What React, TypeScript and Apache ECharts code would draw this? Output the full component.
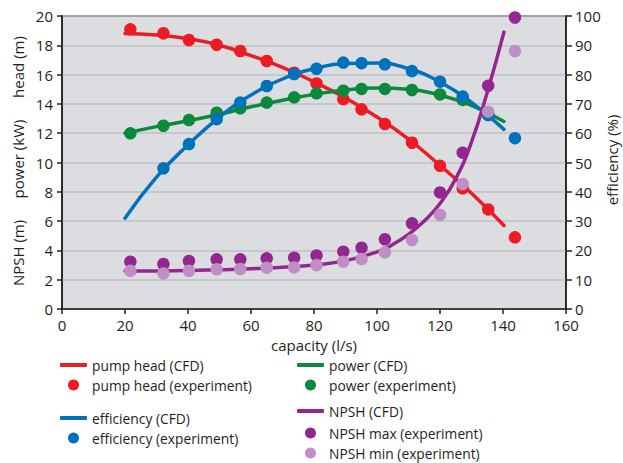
import React, { useEffect, useRef } from "react";
import * as echarts from "echarts";

const xTicks = [0, 20, 40, 60, 80, 100, 120, 140, 160];
const cfdX = [20, 30, 40, 50, 60, 70, 80, 90, 100, 110, 120, 130, 140.3];
const headCfd = [18.8, 18.7, 18.45, 18.0, 17.3, 16.5, 15.5, 14.4, 13.1, 11.6, 9.8, 7.9, 5.7];
const powerCfd = [12.0, 12.45, 12.85, 13.3, 13.8, 14.25, 14.65, 14.95, 15.08, 15.0, 14.6, 13.9, 12.8];
const effCfd = [31, 45, 56, 65.5, 73, 78.5, 82, 83.8, 84, 82, 77.5, 70.5, 61.3];
const npshCfdX = [20, 30, 40, 50, 60, 70, 80, 90, 100, 105, 110, 115, 120, 125, 130, 135, 140.3];
const npshCfd = [2.6, 2.6, 2.62, 2.68, 2.75, 2.85, 3.0, 3.3, 3.9, 4.4, 5.1, 6.0, 7.2, 8.9, 11.4, 14.8, 18.9];

const expX = [21.7, 32.2, 40.3, 49.1, 56.6, 65, 73.7, 80.8, 89.3, 95.1, 102.5, 111.1, 120, 127.2, 135.3, 143.8];
const headExp = [19.09, 18.82, 18.36, 18.04, 17.61, 16.93, 16.13, 15.4, 14.33, 13.63, 12.63, 11.35, 9.77, 8.24, 6.8, 4.89];
const powerExp = [11.99, 12.51, 12.9, 13.4, 13.7, 14.09, 14.45, 14.72, 14.9, 15.02, 15.02, 14.95, 14.65, 14.27, 13.3];
const effExpX = [32.2, 40.3, 49.1, 56.6, 65, 73.7, 80.8, 89.3, 95.1, 102.5, 111.1, 120, 127.2, 135.3, 143.8];
const effExp = [48.0, 56.3, 64.8, 70.5, 76.1, 80.2, 82.0, 84.1, 83.9, 83.5, 81.2, 77.6, 72.5, 66.2, 58.3];
const npshMax = [3.23, 3.07, 3.28, 3.39, 3.39, 3.46, 3.5, 3.66, 3.91, 4.18, 4.76, 5.85, 7.96, 10.67, 15.24, 19.9];
const npshMin = [2.61, 2.43, 2.61, 2.71, 2.73, 2.82, 2.84, 3.0, 3.23, 3.41, 3.87, 4.71, 6.42, 8.53, 13.47, 17.61];

const RED = "#ed1c24";
const GREEN = "#0b8a3e";
const BLUE = "#0072bc";
const PURPLE = "#93278f";
const LILAC = "#c08dc4";
const INK = "#231f20";
const FONT = "Open Sans";

const zip = (xs: number[], ys: number[]) => ys.map((y, i) => [xs[i], y]);

export default function App() {
  const ref = useRef<HTMLDivElement>(null);
  useEffect(() => {
    if (!ref.current) return;
    const chart = echarts.init(ref.current, undefined, { renderer: "svg" });
    const lineS = (name: string, xs: number[], ys: number[], color: string, yAxisIndex = 0) => ({
      name,
      type: "line",
      yAxisIndex,
      data: zip(xs, ys),
      smooth: true,
      showSymbol: false,
      lineStyle: { color, width: 3.5, cap: "round" },
      itemStyle: { color },
      z: 2,
    });
    const dotS = (name: string, xs: number[], ys: number[], color: string, yAxisIndex = 0) => ({
      name,
      type: "scatter",
      yAxisIndex,
      data: zip(xs, ys),
      symbol: "circle",
      symbolSize: 12.5,
      itemStyle: { color, opacity: 1 },
      z: 3,
    });
    const leg = (name: string, colX: number, center: number, isLine: boolean, color: string) => ({
      data: [{ name, icon: isLine ? "roundRect" : "circle", itemStyle: { color } }],
      left: isLine ? colX : colX + 8,
      top: center - 9,
      itemWidth: isLine ? 27 : 11,
      itemHeight: isLine ? 4 : 11,
      textStyle: {
        fontFamily: FONT,
        fontSize: 13.8,
        color: INK,
        padding: isLine ? 0 : [0, 0, 0, 8],
      },
      padding: 0,
      selectedMode: false,
    });
    const axisText = { fontFamily: FONT, fontSize: 15, color: INK };
    chart.setOption({
      animation: false,
      grid: {
        left: 62,
        right: 57,
        top: 16,
        bottom: 154,
        show: true,
        backgroundColor: "#dcdde0",
        borderColor: INK,
        borderWidth: 1.5,
      },
      xAxis: {
        type: "value",
        min: 0,
        max: 160,
        interval: 20,
        axisLine: { show: true, lineStyle: { color: INK, width: 1.5 } },
        axisTick: { show: true, length: 5, lineStyle: { color: INK, width: 1.5 } },
        axisLabel: { ...axisText, margin: 8, formatter: (v: number) => (xTicks.includes(v) ? String(v) : "") },
        splitLine: { show: false },
      },
      yAxis: [
        {
          type: "value",
          min: 0,
          max: 20,
          interval: 2,
          axisLine: { show: true, lineStyle: { color: INK, width: 1.5 } },
          axisTick: { show: true, length: 5, lineStyle: { color: INK, width: 1.5 } },
          axisLabel: { ...axisText, margin: 9 },
          splitLine: { show: true, lineStyle: { color: "#bfc0c3", width: 1.5 } },
        },
        {
          type: "value",
          min: 0,
          max: 100,
          interval: 10,
          position: "right",
          axisLine: { show: true, lineStyle: { color: INK, width: 1.5 } },
          axisTick: { show: true, length: 6, lineStyle: { color: INK, width: 1.5 } },
          axisLabel: { ...axisText, margin: 9 },
          splitLine: { show: false },
        },
      ],
      legend: [
        leg("pump head (CFD)", 60, 367, true, RED),
        leg("pump head (experiment)", 60, 387, false, RED),
        leg("efficiency (CFD)", 60, 420, true, BLUE),
        leg("efficiency (experiment)", 60, 440, false, BLUE),
        leg("power (CFD)", 297, 367, true, GREEN),
        leg("power (experiment)", 297, 387, false, GREEN),
        leg("NPSH (CFD)", 297, 413, true, PURPLE),
        leg("NPSH max (experiment)", 297, 435, false, PURPLE),
        leg("NPSH min (experiment)", 297, 455, false, LILAC),
      ],
      graphic: [
        { type: "text", x: 18, y: 67, rotation: Math.PI / 2, style: { text: "head (m)", ...axisText, fill: INK, textAlign: "center", textVerticalAlign: "middle" } },
        { type: "text", x: 18, y: 159, rotation: Math.PI / 2, style: { text: "power (kW)", ...axisText, fill: INK, textAlign: "center", textVerticalAlign: "middle" } },
        { type: "text", x: 18, y: 253, rotation: Math.PI / 2, style: { text: "NPSH (m)", ...axisText, fill: INK, textAlign: "center", textVerticalAlign: "middle" } },
        { type: "text", x: 612, y: 160, rotation: Math.PI / 2, style: { text: "efficiency (%)", ...axisText, fill: INK, textAlign: "center", textVerticalAlign: "middle" } },
        { type: "text", x: 314, y: 345, style: { text: "capacity (l/s)", ...axisText, fill: INK, textAlign: "center", textVerticalAlign: "middle" } },
      ],
      series: [
        lineS("pump head (CFD)", cfdX, headCfd, RED),
        lineS("power (CFD)", cfdX, powerCfd, GREEN),
        lineS("efficiency (CFD)", cfdX, effCfd, BLUE, 1),
        lineS("NPSH (CFD)", npshCfdX, npshCfd, PURPLE),
        dotS("pump head (experiment)", expX, headExp, RED),
        dotS("power (experiment)", expX, powerExp, GREEN),
        dotS("efficiency (experiment)", effExpX, effExp, BLUE, 1),
        dotS("NPSH max (experiment)", expX, npshMax, PURPLE),
        dotS("NPSH min (experiment)", expX, npshMin, LILAC),
      ],
    });
    return () => chart.dispose();
  }, []);
  return <div ref={ref} style={{ width: 623, height: 463, position: "absolute", left: 0, top: 0 }} />;
}
